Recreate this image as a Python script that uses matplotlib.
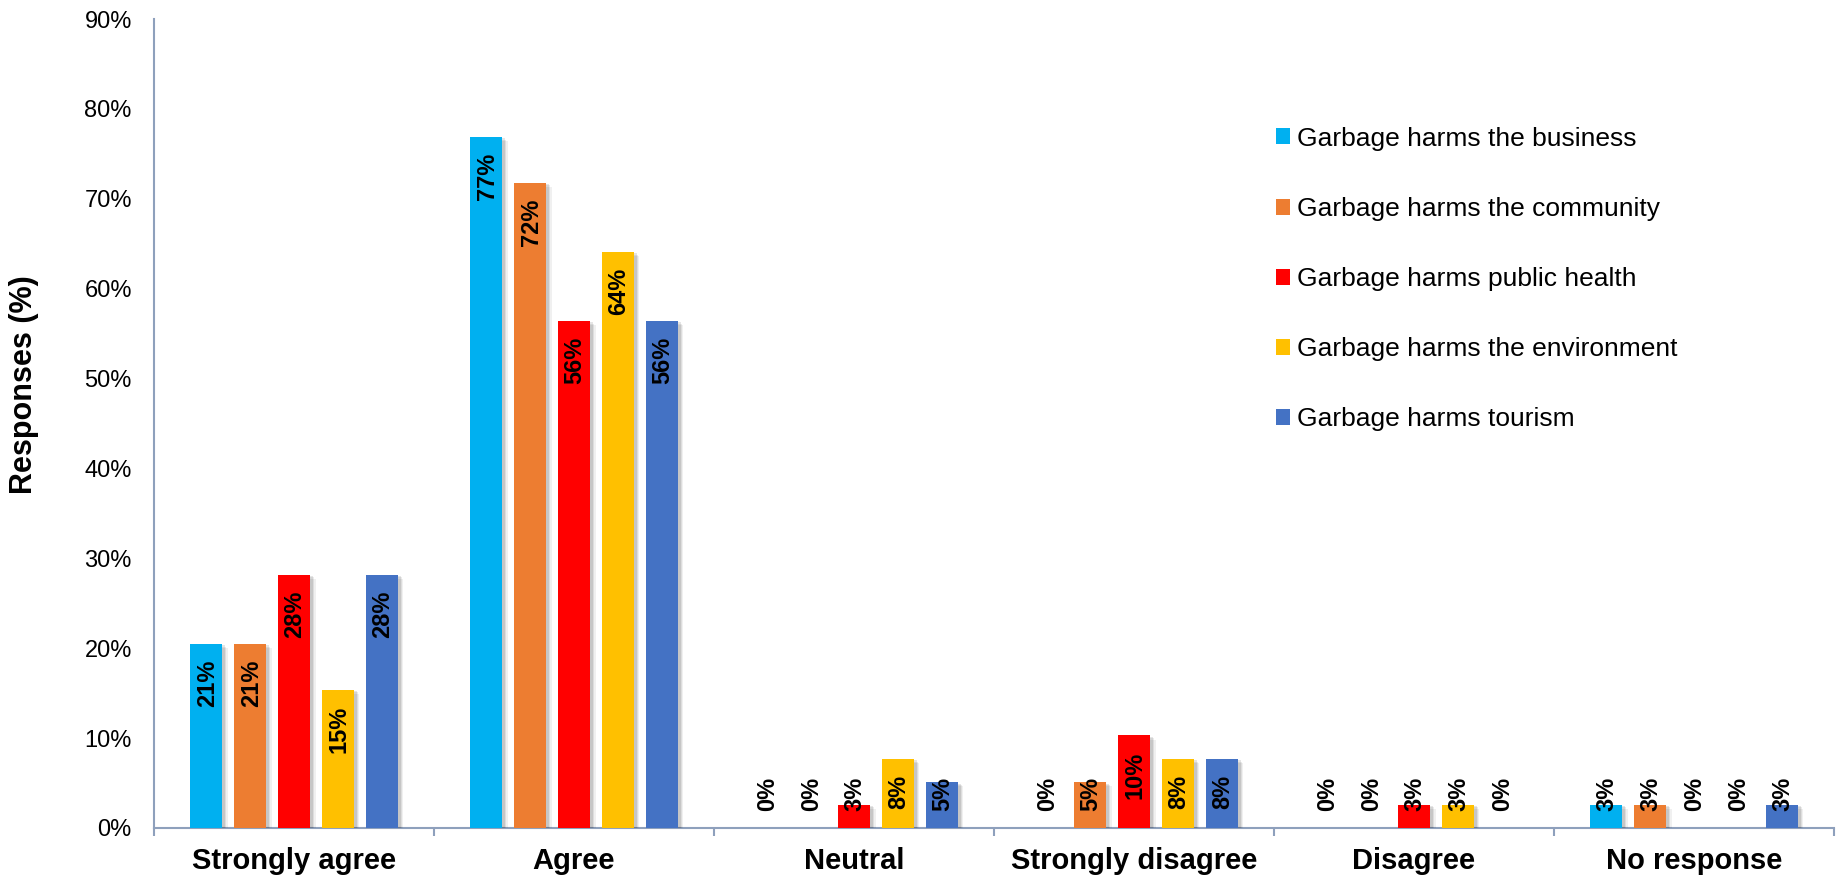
import matplotlib
matplotlib.use("Agg")
import matplotlib.pyplot as plt
import matplotlib.patheffects as pe
from matplotlib.patches import Patch
from matplotlib.ticker import FixedLocator, FuncFormatter
import numpy as np

plt.rcParams['font.family'] = ['Liberation Sans', 'DejaVu Sans']

categories = ["Strongly agree", "Agree", "Neutral", "Strongly disagree", "Disagree", "No response"]
series_names = ["Garbage harms the business", "Garbage harms the community",
                "Garbage harms public health", "Garbage harms the environment",
                "Garbage harms tourism"]
business = [20.5, 76.9, 0.0, 0.0, 0.0, 2.6]
community = [20.5, 71.8, 0.0, 5.1, 0.0, 2.6]
public_health = [28.2, 56.4, 2.6, 10.3, 2.6, 0.0]
environment = [15.4, 64.1, 7.7, 7.7, 2.6, 0.0]
tourism = [28.2, 56.4, 5.1, 7.7, 0.0, 2.6]
series_values = [business, community, public_health, environment, tourism]
colors = ["#00B0F0", "#ED7D31", "#FF0000", "#FFC000", "#4472C4"]
yticks = [0, 10, 20, 30, 40, 50, 60, 70, 80, 90]

fig = plt.figure(figsize=(18.37, 8.81), dpi=100)
ax = fig.add_axes([154/1837, 1-828/881, (1834-154)/1837, (828-19)/881])

x = np.arange(len(categories))
pitch = 0.157
width = 0.114
axis_col = "#8EA0BC"

shadow = [pe.SimplePatchShadow(offset=(4, -3), shadow_rgbFace='#000000', alpha=0.06),
          pe.SimplePatchShadow(offset=(3, -2), shadow_rgbFace='#000000', alpha=0.08),
          pe.SimplePatchShadow(offset=(2, -1), shadow_rgbFace='#000000', alpha=0.10),
          pe.Normal()]

px_per_unit = (828 - 19) / 90.0
for i, (vals, col, name) in enumerate(zip(series_values, colors, series_names)):
    xpos = x + (i - 2) * pitch
    bars = ax.bar(xpos, vals, width=width, color=col, label=name, zorder=3)
    for b in bars:
        b.set_path_effects(shadow)
    for xp, v in zip(xpos, vals):
        top = max(v - 16 / px_per_unit, 51 / px_per_unit)
        ax.text(xp + 0.004, top, f"{int(v + 0.5)}%", rotation=90, ha='center', va='top',
                fontsize=17, fontweight='bold', color='black', zorder=5)

ax.set_ylim(0, 90)
ax.set_xlim(-0.5, len(categories) - 0.5)
ax.yaxis.set_major_locator(FixedLocator(yticks))
ax.yaxis.set_major_formatter(FuncFormatter(lambda v, p: f"{v:.0f}%"))
ax.tick_params(axis='y', length=0, pad=16, labelsize=17)

ax.set_xticks(x)
ax.set_xticklabels(categories, fontsize=21, fontweight='bold')
ax.set_xticks(np.arange(-0.5, len(categories)), minor=True)
ax.tick_params(axis='x', which='major', length=0, pad=14)
ax.tick_params(axis='x', which='minor', length=6, width=1.5, color=axis_col, direction='out')

for s in ['top', 'right']:
    ax.spines[s].set_visible(False)
for s in ['left', 'bottom']:
    ax.spines[s].set_color(axis_col)
    ax.spines[s].set_linewidth(1.5)

fig.text(24/1837, 1 - 385/881, "Responses (%)", rotation=90, ha='center', va='center',
         fontsize=22, fontweight='bold')

handles = [Patch(facecolor=c, edgecolor='none') for c in colors]
leg = fig.legend(handles, series_names, loc='upper left',
                 bbox_to_anchor=(1252/1837, 1 - 103/881), frameon=False,
                 fontsize=19, handlelength=0.55, handleheight=0.55,
                 handletextpad=0.25, labelspacing=1.75)

fig.savefig("out.png", dpi=100)
